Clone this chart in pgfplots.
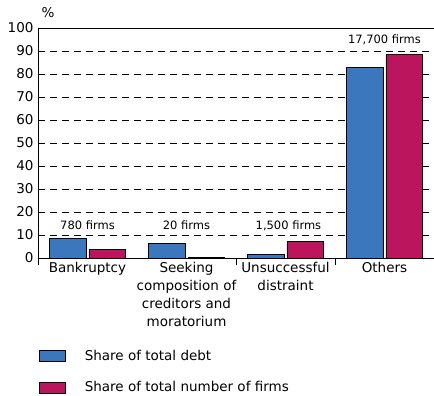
\documentclass[border=0pt]{standalone}
\usepackage{pgfplots}
\pgfplotsset{compat=1.18}
\usepackage{fontspec}
\setmainfont{DejaVu Sans}
\definecolor{debtblue}{RGB}{59,119,188}
\definecolor{firmred}{RGB}{186,21,93}

\begin{document}
\begin{tikzpicture}
\begin{axis}[
  scale only axis, width=396pt, height=230pt,
  xmin=-0.5, xmax=3.5, ymin=0, ymax=100,
  clip=false,
  axis line style={draw=none},
  /pgf/number format/assume math mode=true,
  ytick={0,10,...,100},
  ymajorgrids, major grid style={black, dash pattern=on 7pt off 5pt, line width=0.8pt},
  major tick length=0pt,
  xtick pos=bottom,
  xtick={0,1,2,3},
  xticklabels={Bankruptcy,Seeking\\composition of\\creditors and\\moratorium,Unsuccessful\\distraint,Others},
  extra x ticks={-0.5,1.5,2.5}, extra x tick labels={},
  extra x tick style={major tick length=7pt, tick align=outside, xtick pos=bottom, tick style={black, line width=0.8pt}, grid=none},
  tick label style={font=\fontsize{13.5}{18}\selectfont},
  xticklabel style={align=center, yshift=-1pt},
  yticklabel style={xshift=-1pt},
  legend style={at={(axis description cs:0,0)}, anchor=north west, yshift=-88pt, xshift=-2pt,
    draw=none, fill=none, font=\fontsize{13.5}{16}\selectfont, row sep=15.5pt, column sep=17pt},
  legend cell align=left,
  legend image code/.code={\draw[#1, draw=black, line width=0.6pt] (0pt,-5.5pt) rectangle (26pt,5.5pt);},
]
\addplot[ybar, bar width=0.37, bar shift=-0.2, fill=debtblue, draw=black, line width=0.6pt]
  coordinates {(0,8.4) (1,6.4) (2,1.7) (3,83.0)};
\addplot[ybar, bar width=0.37, bar shift=0.2, fill=firmred, draw=black, line width=0.6pt]
  coordinates {(0,3.8) (1,0.3) (2,7.3) (3,88.6)};
\legend{Share of total debt, Share of total number of firms}
\draw[black, line width=0.8pt] (rel axis cs:0,0) -- (rel axis cs:0,1) -- (rel axis cs:1,1);
\draw[black, line width=0.8pt] (rel axis cs:0,0) -- (rel axis cs:1,0);
\begin{scope}[every node/.style={font=\fontsize{11.5}{14}\selectfont, anchor=base}]
\node at (axis cs:0,12.3) {780 firms};
\node at (axis cs:1,12.3) {20 firms};
\node at (axis cs:2.03,12.3) {1,500 firms};
\node at (axis cs:3,93.2) {17,700 firms};
\end{scope}
\node[anchor=base west, font=\fontsize{13.5}{16}\selectfont] at ([shift={(0pt,10pt)}]rel axis cs:0,1) {\%};
\coordinate (O) at (rel axis cs:0,0);
\end{axis}
\pgfresetboundingbox
\path[use as bounding box] ([shift={(-38pt,-138pt)}]O) rectangle ([shift={(396pt,258pt)}]O);
\end{tikzpicture}
\end{document}
